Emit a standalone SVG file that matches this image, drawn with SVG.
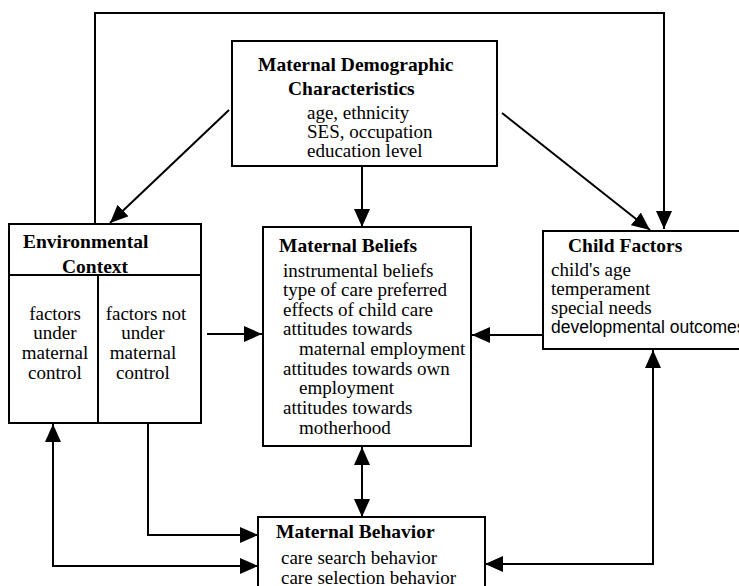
<svg xmlns="http://www.w3.org/2000/svg" width="739" height="586" viewBox="0 0 739 586">
<style>
.box{fill:#fff;stroke:#000;stroke-width:2}
.ln{fill:none;stroke:#000;stroke-width:2}
.t{font-family:"Liberation Serif","Times New Roman",serif;font-size:19px;fill:#000}
.b{font-weight:bold;font-size:19.5px}
.s{font-family:"Liberation Sans",Arial,sans-serif;font-size:17.5px}
.c{text-anchor:middle}
</style>
<defs>
<marker id="ah" viewBox="0 0 18 16" markerWidth="18" markerHeight="16" refX="18" refY="8" orient="auto-start-reverse" markerUnits="userSpaceOnUse">
<path d="M0,0 L18,8 L0,16 z" fill="#000"/>
</marker>
</defs>
<rect width="739" height="586" fill="#fff"/>
<g id="connectors">
<path class="ln" d="M95,224 V13 H664 V229" marker-end="url(#ah)"/>
<path class="ln" d="M229,110 L110,223" marker-end="url(#ah)"/>
<path class="ln" d="M362,166 V227" marker-end="url(#ah)"/>
<path class="ln" d="M502,113 L650,230" marker-end="url(#ah)"/>
<path class="ln" d="M207,334 H262" marker-end="url(#ah)"/>
<path class="ln" d="M543,335 H472" marker-end="url(#ah)"/>
<path class="ln" d="M362,447 V517" marker-start="url(#ah)" marker-end="url(#ah)"/>
<path class="ln" d="M148,423 V535 H258" marker-end="url(#ah)"/>
<path class="ln" d="M53,424 V566 H258" marker-start="url(#ah)" marker-end="url(#ah)"/>
<path class="ln" d="M653,350 V564 H485" marker-start="url(#ah)" marker-end="url(#ah)"/>
</g>
<g id="demographics">
<rect class="box" x="232" y="41" width="265" height="125"/>
<text class="t b" x="258" y="71">Maternal Demographic</text>
<text class="t b" x="288" y="95">Characteristics</text>
<text class="t" x="307" y="119">age, ethnicity</text>
<text class="t" x="307" y="138">SES, occupation</text>
<text class="t" x="307" y="157">education level</text>
</g>
<g id="environment">
<rect class="box" x="9" y="224" width="192" height="199"/>
<line class="ln" x1="9" y1="275" x2="201" y2="275"/>
<line class="ln" x1="98" y1="275" x2="98" y2="423"/>
<text class="t b" x="23" y="248">Environmental</text>
<text class="t b" x="62" y="273">Context</text>
<text class="t c" x="55" y="320">factors</text>
<text class="t c" x="55" y="339">under</text>
<text class="t c" x="55" y="359">maternal</text>
<text class="t c" x="55" y="379">control</text>
<text class="t c" x="146" y="320">factors not</text>
<text class="t c" x="143" y="339">under</text>
<text class="t c" x="143" y="359">maternal</text>
<text class="t c" x="143" y="379">control</text>
</g>
<g id="beliefs">
<rect class="box" x="263" y="227" width="208" height="219"/>
<text class="t b" x="279" y="252">Maternal Beliefs</text>
<text class="t" x="283" y="277">instrumental beliefs</text>
<text class="t" x="283" y="296">type of care preferred</text>
<text class="t" x="283" y="316">effects of child care</text>
<text class="t" x="283" y="335">attitudes towards</text>
<text class="t" x="299" y="355">maternal employment</text>
<text class="t" x="283" y="375">attitudes towards own</text>
<text class="t" x="299" y="394">employment</text>
<text class="t" x="283" y="414">attitudes towards</text>
<text class="t" x="299" y="434">motherhood</text>
</g>
<g id="child">
<rect class="box" x="543" y="231" width="210" height="118"/>
<text class="t b" x="568" y="252">Child Factors</text>
<text class="t" x="551" y="276">child's age</text>
<text class="t" x="551" y="295">temperament</text>
<text class="t" x="551" y="314">special needs</text>
<text class="t s" x="551" y="333">developmental outcomes</text>
</g>
<g id="behavior">
<rect class="box" x="258" y="517" width="227" height="80"/>
<text class="t b" x="276" y="538">Maternal Behavior</text>
<text class="t" x="281" y="564">care search behavior</text>
<text class="t" x="281" y="584">care selection behavior</text>
</g>
</svg>
